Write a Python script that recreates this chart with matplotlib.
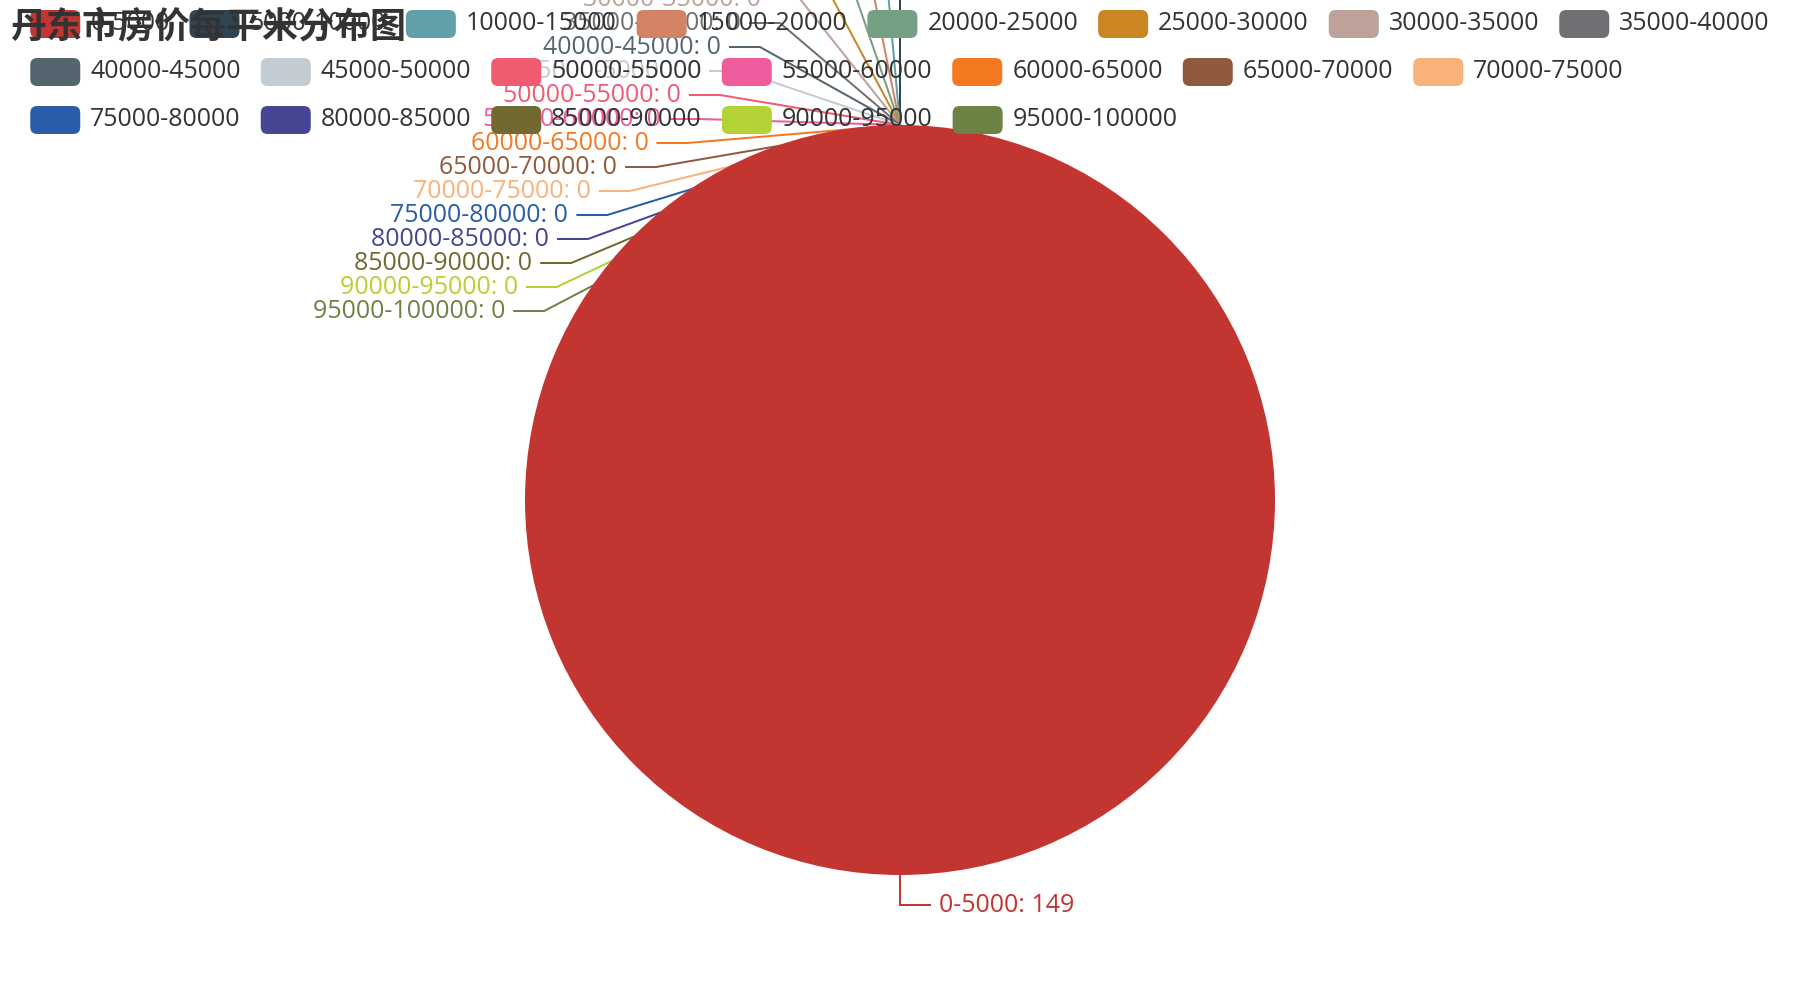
import numpy as np
import matplotlib
matplotlib.use("Agg")
import matplotlib.pyplot as plt
from matplotlib.patches import FancyBboxPatch

# ---- data -------------------------------------------------------------
title = "丹东市房价每平米分布图"

price_bins = [
    "0-5000", "5000-10000", "10000-15000", "15000-20000", "20000-25000",
    "25000-30000", "30000-35000", "35000-40000", "40000-45000", "45000-50000",
    "50000-55000", "55000-60000", "60000-65000", "65000-70000", "70000-75000",
    "75000-80000", "80000-85000", "85000-90000", "90000-95000", "95000-100000",
]
counts = [149, 0, 0, 0, 0, 0, 0, 0, 0, 0,
          0, 0, 0, 0, 0, 0, 0, 0, 0, 0]

palette = [
    "#c23531", "#2f4554", "#61a0a8", "#d48265", "#749f83",
    "#ca8622", "#bda29a", "#6e7074", "#546570", "#c4ccd3",
    "#f05b72", "#ef5b9c", "#f47920", "#905a3d", "#fab27b",
    "#2a5caa", "#444693", "#726930", "#b2d235", "#6d8346",
]

# ---- layout (pixels; chart was rendered at 2x) -------------------------
W, H = 1800, 1000
PT = 0.72                 # px -> pt at dpi 100
FONT_PX = 25
LEN1, LEN2 = 30, 30       # labelLine length / length2
LINE_GAP, TEXT_GAP = 6, 3
LABEL_H = 24
STEP_X = 20

plt.rcParams["font.family"] = ["Open Sans", "Noto Sans CJK SC", "DejaVu Sans"]


def main():
    fig = plt.figure(figsize=(W / 100, H / 100), dpi=100)
    ax = fig.add_axes([0, 0, 1, 1])

    cx, cy = W / 2, H / 2
    r = 0.75 * min(W, H) / 2

    # y axis is flipped below, so startangle=-90 is the top and
    # counterclock=True runs clockwise on screen
    ax.pie(counts, colors=palette, startangle=-90, counterclock=True,
           radius=r, center=(cx, cy), wedgeprops=dict(linewidth=0, zorder=3))
    ax.set_xlim(0, W)
    ax.set_ylim(H, 0)
    ax.set_aspect("auto")
    ax.axis("off")

    # mid angle of each slice, screen degrees clockwise from 3 o'clock
    frac = np.asarray(counts, float) / np.sum(counts)
    before = np.concatenate([[0.0], np.cumsum(frac)[:-1]])
    mids = np.deg2rad(-90 + 360 * (before + frac / 2))

    # label placement, roughly the echarts outside-label layout
    items = []
    for i, mid in enumerate(mids):
        dx, dy = np.cos(mid), np.sin(mid)
        if abs(dx) > 1e-9:
            side = -1 if dx < 0 else 1
        else:
            # straight up goes left, straight down goes right (as echarts)
            side = -1 if dy < 0 else 1
        p0 = (cx + r * dx, cy + r * dy)
        p1x = cx + (r + LEN1) * dx
        items.append(dict(i=i, side=side, p0=p0,
                          x=p1x + side * (LEN2 + LINE_GAP),
                          y=cy + (r + LEN1) * dy))

    for side in (-1, 1):
        group = sorted([it for it in items if it["side"] == side],
                       key=lambda it: (it["y"], it["i"]))
        if not group:
            continue
        # stack without overlap, keep the group centred where it was
        orig_mean = np.mean([it["y"] for it in group])
        for k in range(1, len(group)):
            if group[k]["y"] < group[k - 1]["y"] + LABEL_H:
                group[k]["y"] = group[k - 1]["y"] + LABEL_H
        shift = orig_mean - np.mean([it["y"] for it in group])
        if len(group) > 1:
            for it in group:
                it["y"] += shift

        up = [it for it in group if it["y"] < cy]
        down = [it for it in group if it["y"] >= cy]
        for lst, is_down in ((up, False), (down, True)):
            last = np.inf if is_down else 0.0
            for it in lst:
                ddy = abs(it["y"] - cy)
                if ddy < r + LEN1:
                    ddx = np.sqrt((r + LEN1 + LEN2) ** 2 - ddy ** 2)
                else:
                    ddx = abs(it["x"] - cx)
                if is_down and ddx >= last:
                    ddx = last - STEP_X
                if not is_down and ddx <= last:
                    ddx = last + STEP_X
                it["x"] = cx + ddx * side
                last = ddx

    for it in items:
        i, side, x, y = it["i"], it["side"], it["x"], it["y"]
        col = palette[i]
        xs = [it["p0"][0], x - side * (LEN2 + LINE_GAP), x - side * LINE_GAP]
        ys = [it["p0"][1], y, y]
        ax.plot(xs, ys, color=col, lw=2 * PT, zorder=2,
                solid_joinstyle="miter", clip_on=False)
        ax.text(x + side * TEXT_GAP, y, f"{price_bins[i]}: {counts[i]}",
                color=col, fontsize=FONT_PX * PT,
                ha="left" if side > 0 else "right", va="center", zorder=4)

    # legend, wrapped rows, box centred at the top
    renderer = fig.canvas.get_renderer()
    icon_w, icon_h, icon_gap, item_gap, row_h = 50, 28, 10, 20, 48
    widths = []
    for name in price_bins:
        t = ax.text(0, 0, name, fontsize=FONT_PX * PT)
        widths.append(t.get_window_extent(renderer).width)
        t.remove()

    avail = W - 20
    rows, cur, cur_w = [], [], 0.0
    for k, tw in enumerate(widths):
        iw = icon_w + icon_gap + tw
        need = iw if not cur else cur_w + item_gap + iw
        if cur and need > avail:
            rows.append((cur, cur_w))
            cur, cur_w = [k], iw
        else:
            cur.append(k)
            cur_w = need
    rows.append((cur, cur_w))

    left = (W - max(rw for _, rw in rows)) / 2
    for row_i, (ks, _) in enumerate(rows):
        yc = 24 + row_i * row_h
        x = left
        for k in ks:
            ax.add_patch(FancyBboxPatch(
                (x, yc - icon_h / 2), icon_w, icon_h,
                boxstyle="round,pad=0,rounding_size=7",
                fc=palette[k], ec="none", zorder=5))
            ax.text(x + icon_w + icon_gap, yc, price_bins[k], color="#333333",
                    fontsize=FONT_PX * PT, ha="left", va="center", zorder=5)
            x += icon_w + icon_gap + widths[k] + item_gap

    ax.text(10, 8, title, color="#333333", fontsize=36 * PT,
            fontweight="bold", family=["Noto Sans CJK SC", "DejaVu Sans"],
            ha="left", va="top", zorder=6)

    fig.savefig("out.png", dpi=100, facecolor="white")


if __name__ == "__main__":
    main()
